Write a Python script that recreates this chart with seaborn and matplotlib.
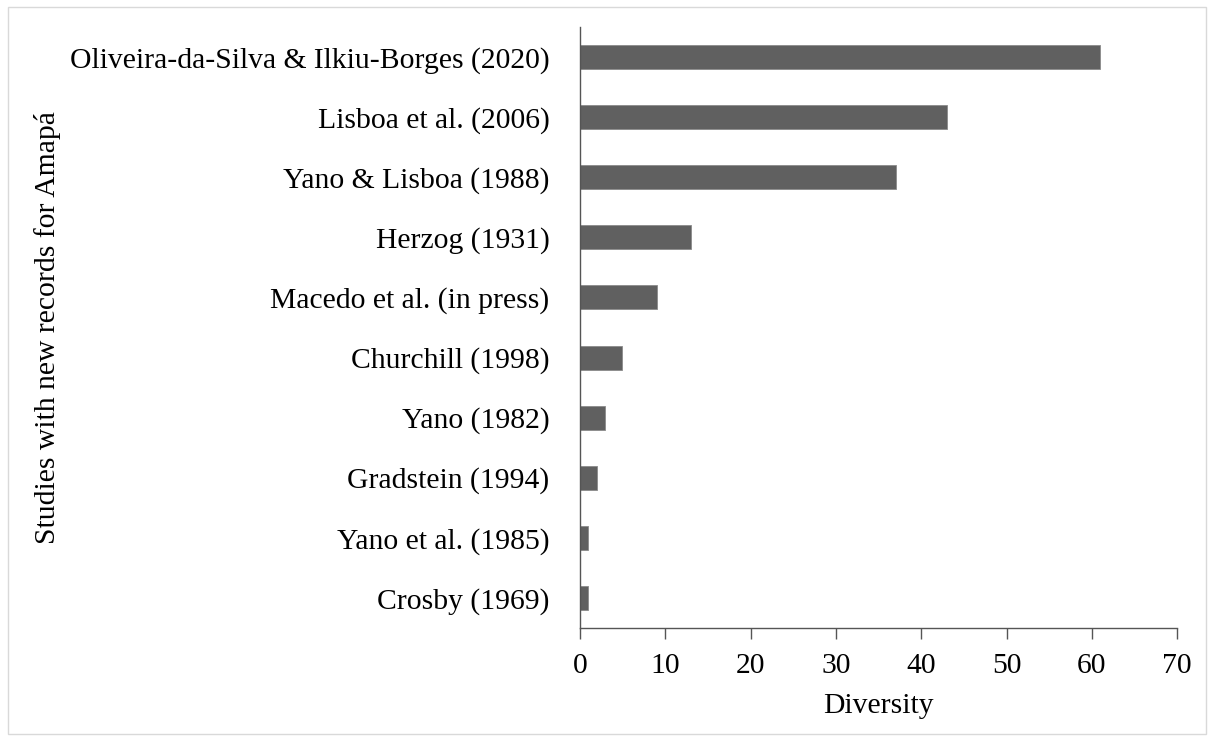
import matplotlib
matplotlib.use("Agg")
import matplotlib.pyplot as plt
import seaborn as sns
import pandas as pd
from matplotlib.patches import Rectangle

studies = [
    "Oliveira-da-Silva & Ilkiu-Borges (2020)",
    "Lisboa et al. (2006)",
    "Yano & Lisboa (1988)",
    "Herzog (1931)",
    "Macedo et al. (in press)",
    "Churchill (1998)",
    "Yano (1982)",
    "Gradstein (1994)",
    "Yano et al. (1985)",
    "Crosby (1969)",
]
diversity = [61, 43, 37, 13, 9, 5, 3, 2, 1, 1]
x_ticks = [0, 10, 20, 30, 40, 50, 60, 70]

df = pd.DataFrame({"study": studies, "diversity": diversity})

sns.set_style("white")
plt.rcParams["font.family"] = ["Liberation Serif", "DejaVu Serif"]

fig = plt.figure(figsize=(12.13, 7.38), dpi=100)
ax = fig.add_axes([0.478, 0.149, 0.4925, 0.8144])

sns.barplot(data=df, x="diversity", y="study", color="#606060",
            width=0.4, saturation=1, edgecolor="#8a8a8a", linewidth=0.6, ax=ax)

ax.set_xlim(0, 70)
ax.set_xticks(x_ticks)
ax.set_ylim(9.5, -0.5)
ax.tick_params(axis="x", labelsize=21.3, length=8, width=1, direction="out",
               color="#555555", labelcolor="black", bottom=True, pad=10)
ax.tick_params(axis="y", labelsize=21.3, length=0, pad=22, labelcolor="black")
ax.set_xlabel("Diversity", fontsize=21.3, labelpad=10, color="black")
ax.set_ylabel("Studies with new records for Amapá", fontsize=21.3, labelpad=6,
              color="black")

for side in ["top", "right"]:
    ax.spines[side].set_visible(False)
for side in ["left", "bottom"]:
    ax.spines[side].set_color("#555555")
    ax.spines[side].set_linewidth(1)

# thin frame around the whole figure
fig.patches.append(Rectangle((0.007, 0.006), 0.987, 0.985, transform=fig.transFigure,
                             fill=False, edgecolor="#d9d9d9", linewidth=1))

fig.savefig("out.png", dpi=100)
